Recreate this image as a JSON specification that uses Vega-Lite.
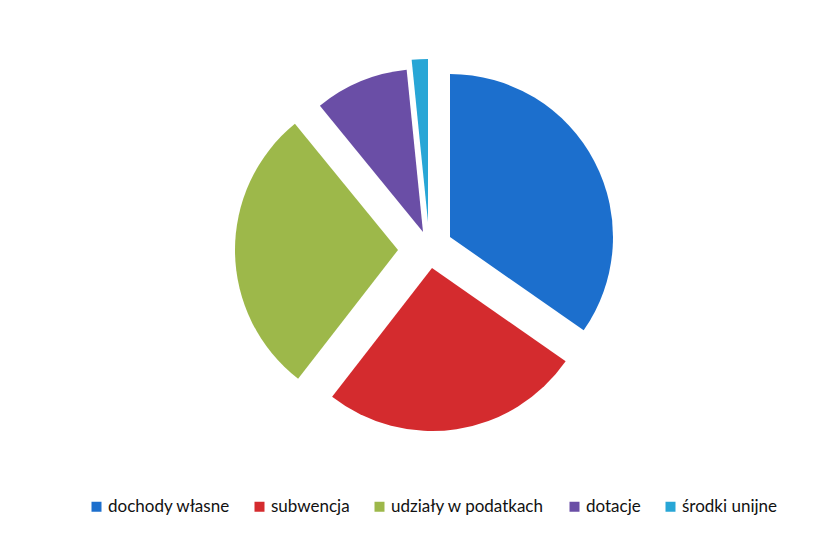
{
  "$schema": "https://vega.github.io/schema/vega-lite/v6.json",
  "autosize": {"type": "none"},
  "width": 814,
  "height": 496,
  "padding": {"left": 21, "top": 0, "right": 0, "bottom": 37},
  "background": "white",
  "config": {"view": {"stroke": null}},
  "data": {
    "values": [
      {"kategoria": "dochody własne", "udzial": 34.7, "kolejnosc": 1},
      {"kategoria": "subwencja", "udzial": 25.8, "kolejnosc": 2},
      {"kategoria": "udziały w podatkach", "udzial": 28.6, "kolejnosc": 3},
      {"kategoria": "dotacje", "udzial": 9.3, "kolejnosc": 4},
      {"kategoria": "środki unijne", "udzial": 1.6, "kolejnosc": 5}
    ]
  },
  "transform": [
    {"stack": "udzial", "groupby": [], "sort": [{"field": "kolejnosc", "order": "ascending"}], "as": ["od", "do"]}
  ],
  "encoding": {
    "theta": {"field": "od", "type": "quantitative", "stack": null, "scale": {"domain": [0, 100]}},
    "theta2": {"field": "do"},
    "color": {
      "field": "kategoria",
      "type": "nominal",
      "scale": {
        "domain": ["dochody własne", "subwencja", "udziały w podatkach", "dotacje", "środki unijne"],
        "range": ["#1c6fcd", "#d42b2e", "#9db84a", "#6a4ea6", "#28a6d6"]
      },
      "legend": {
        "title": null,
        "orient": "none",
        "direction": "horizontal",
        "legendX": 67,
        "legendY": 498,
        "padding": 0,
        "symbolType": "square",
        "symbolSize": 100,
        "symbolStrokeWidth": 0,
        "labelFont": "Lato",
        "labelFontSize": 17,
        "labelColor": "#111111",
        "labelOffset": 3,
        "columnPadding": 21
      }
    }
  },
  "layer": [
    {"transform": [{"filter": "datum.kolejnosc == 1"}], "mark": {"type": "arc", "outerRadius": 163, "xOffset": 22, "yOffset": -11}},
    {"transform": [{"filter": "datum.kolejnosc == 2"}], "mark": {"type": "arc", "outerRadius": 163, "xOffset": 4, "yOffset": 20}},
    {"transform": [{"filter": "datum.kolejnosc == 3"}], "mark": {"type": "arc", "outerRadius": 163, "xOffset": -30, "yOffset": 2}},
    {"transform": [{"filter": "datum.kolejnosc == 4"}], "mark": {"type": "arc", "outerRadius": 163, "xOffset": -5, "yOffset": -16}},
    {"transform": [{"filter": "datum.kolejnosc == 5"}], "mark": {"type": "arc", "outerRadius": 163, "xOffset": 0, "yOffset": -26}}
  ]
}
